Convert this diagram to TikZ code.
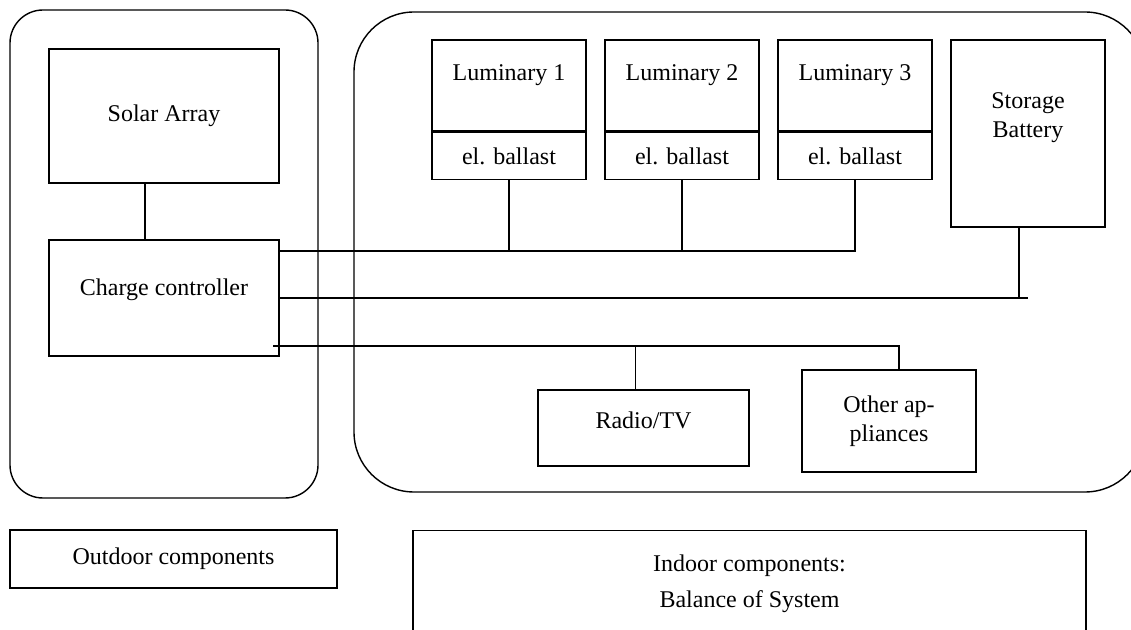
\documentclass[tikz,border=0pt]{standalone}
\usepackage{fontspec}
\setmainfont{Liberation Serif}
\usetikzlibrary{positioning}

\tikzset{
  part/.style={draw, line width=0.7pt, inner sep=0pt, align=center},
  lamp/.style={part, minimum width=77pt, minimum height=45.5pt, text depth=12.6pt},
  ballast/.style={part, minimum width=77pt, minimum height=23.5pt},
  wire/.style={line width=0.7pt},
  area/.style={line width=0.7pt, rounded corners=#1}
}

\begin{document}
\begin{tikzpicture}[x=0.5pt, y=-0.5pt, font=\fontsize{12}{14.5}\selectfont]
\useasboundingbox (0,0) rectangle (1131,630);

% outdoor and indoor areas
\draw[area=16.5pt] (10,10) rectangle (318,498);
\draw[area=30pt] (354,12) rectangle (1145,492);

% outdoor components
\node[part, minimum width=115pt, minimum height=67pt] (solar) at (164,116) {Solar Array};
\node[part, minimum width=115pt, minimum height=58pt, text depth=10.6pt] (ctrl) at (164,298) {Charge controller};

% luminaries with their ballasts
\foreach \i/\x in {1/509,2/682,3/855} {
  \node[lamp] (lum\i) at (\x,85.5) {Luminary \i};
  \node[ballast, below=0pt of lum\i] (bal\i) {el. ballast};
}

\node[part, minimum width=77pt, minimum height=93.5pt, text depth=18.6pt] (batt) at (1028,133.5) {Storage\\Battery};
\node[part, minimum width=105.5pt, minimum height=38pt, text depth=7.6pt] (radio) at (643.5,428) {Radio/TV};
\node[part, minimum width=87pt, minimum height=51pt] (oth) at (889,421) {Other ap-\\pliances};

% legend
\node[part, minimum width=163.5pt, minimum height=29pt] (outleg) at (173.5,559) {Outdoor components};
\node[part, anchor=north, minimum width=336.5pt, inner ysep=12pt, text depth=40pt] (inleg) at (749.5,530) {Indoor components:\\[3.5pt]Balance of System};

% wiring
\coordinate (bus1) at (856,251);
\coordinate (bus2) at (1028,298);
\coordinate (bus3) at (273,346);
\coordinate (othtop) at ([xshift=5pt]oth.north);

\draw[wire] ([xshift=-9.5pt]solar.south) -- ([xshift=-9.5pt]ctrl.north);
\draw[wire] (ctrl.east |- bus1) -- (bus1);
\foreach \i in {1,2,3}
  \draw[wire] (bal\i.south) -- (bal\i.south |- bus1);
\draw[wire] (ctrl.east) -- (bus2);
\draw[wire] ([xshift=-4.5pt]batt.south) -- ([xshift=-4.5pt]batt.south |- bus2);
\draw[wire] (bus3) -- (bus3 -| othtop) -- (othtop);
\draw[wire] ([xshift=-4pt]radio.north) -- ([xshift=-4pt]radio.north |- bus3);
\end{tikzpicture}
\end{document}
